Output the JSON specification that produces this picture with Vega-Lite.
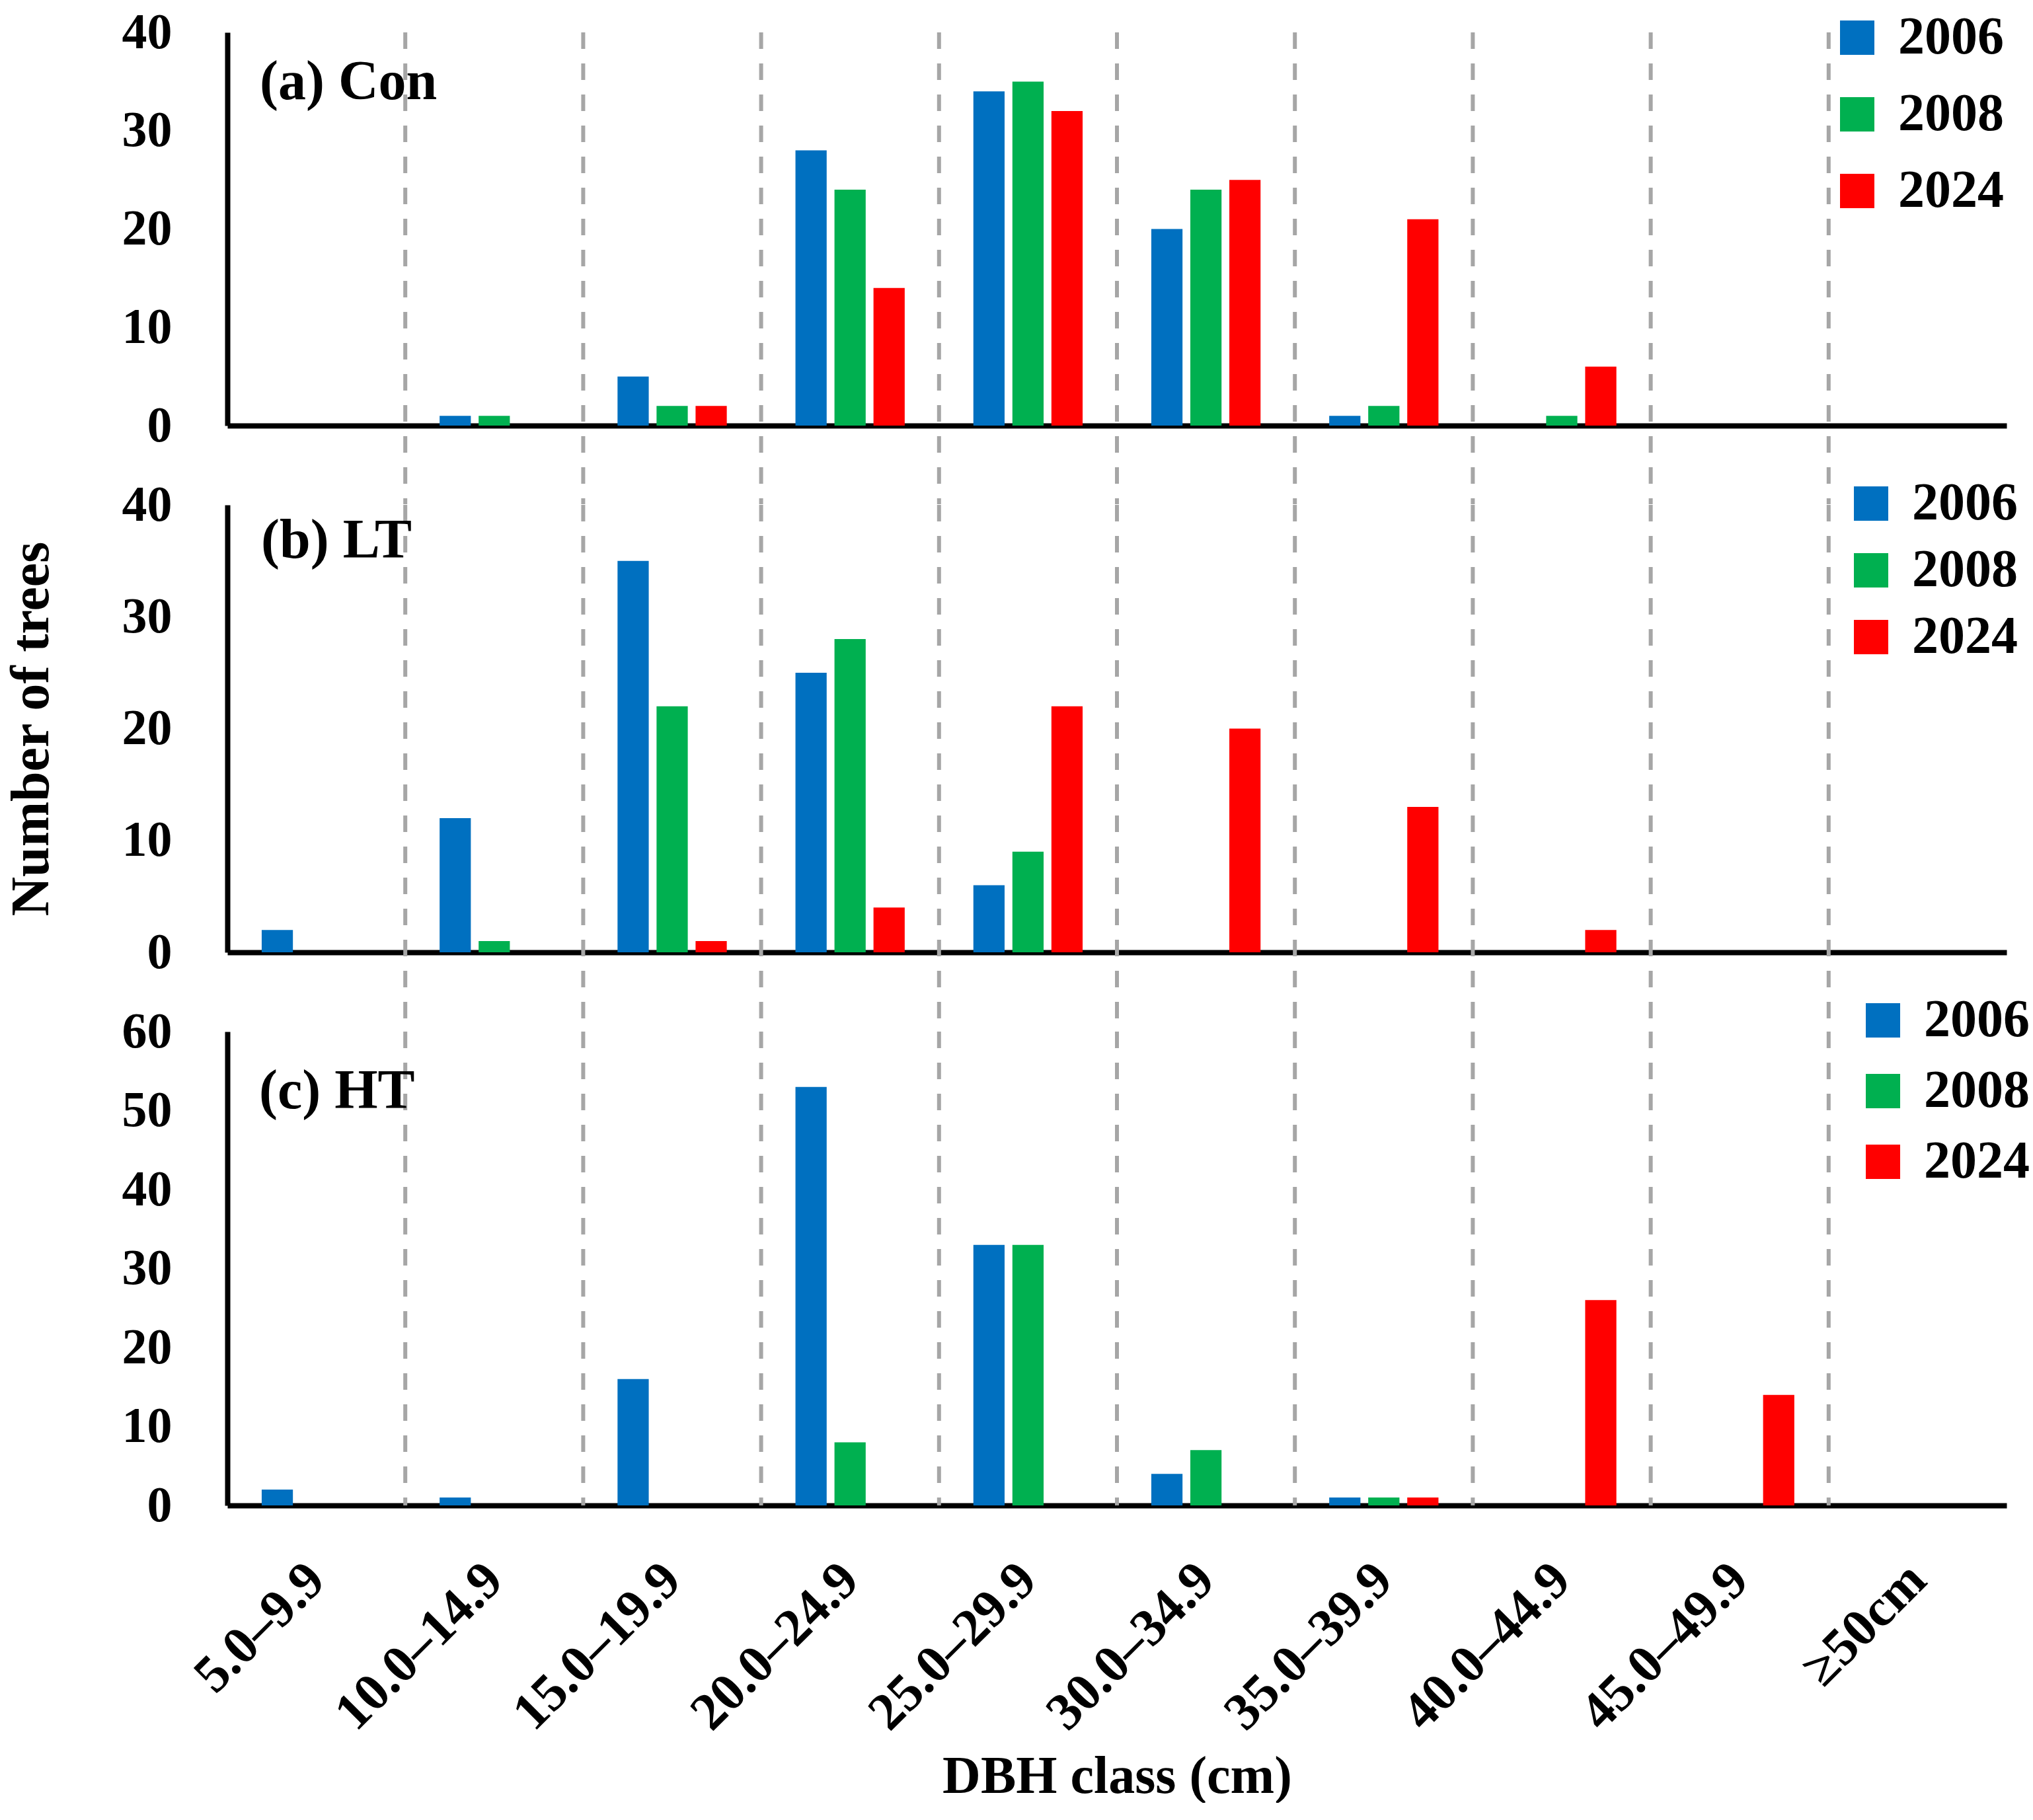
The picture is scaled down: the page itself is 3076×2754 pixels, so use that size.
{
  "$schema": "https://vega.github.io/schema/vega-lite/v6.json",
  "background": "white",
  "padding": {"left": 6, "top": 11, "right": 0, "bottom": 0},
  "config": {
    "font": "Liberation Serif",
    "view": {"stroke": null},
    "axis": {
      "labelFont": "Liberation Serif", "labelFontWeight": "bold", "labelFontSize": 76, "labelColor": "black", "labelLimit": 0,
      "titleFont": "Liberation Serif", "titleFontWeight": "bold", "titleFontSize": 82, "titleColor": "black", "titleLimit": 0,
      "domainColor": "black", "domainWidth": 8, "ticks": false, "tickSize": 0, "grid": false
    },
    "legend": {
      "labelFont": "Liberation Serif", "labelFontWeight": "bold", "labelFontSize": 80, "labelColor": "black", "labelLimit": 0,
      "symbolType": "square", "symbolSize": 2704, "symbolStrokeWidth": 0, "symbolOpacity": 1,
      "labelOffset": 22, "padding": 0, "title": null
    }
  },
  "datasets": {
    "bars": [
      {"panel": "a", "cls": "10.0–14.9", "year": "2006", "n": 1},
      {"panel": "a", "cls": "10.0–14.9", "year": "2008", "n": 1},
      {"panel": "a", "cls": "15.0–19.9", "year": "2006", "n": 5},
      {"panel": "a", "cls": "15.0–19.9", "year": "2008", "n": 2},
      {"panel": "a", "cls": "15.0–19.9", "year": "2024", "n": 2},
      {"panel": "a", "cls": "20.0–24.9", "year": "2006", "n": 28},
      {"panel": "a", "cls": "20.0–24.9", "year": "2008", "n": 24},
      {"panel": "a", "cls": "20.0–24.9", "year": "2024", "n": 14},
      {"panel": "a", "cls": "25.0–29.9", "year": "2006", "n": 34},
      {"panel": "a", "cls": "25.0–29.9", "year": "2008", "n": 35},
      {"panel": "a", "cls": "25.0–29.9", "year": "2024", "n": 32},
      {"panel": "a", "cls": "30.0–34.9", "year": "2006", "n": 20},
      {"panel": "a", "cls": "30.0–34.9", "year": "2008", "n": 24},
      {"panel": "a", "cls": "30.0–34.9", "year": "2024", "n": 25},
      {"panel": "a", "cls": "35.0–39.9", "year": "2006", "n": 1},
      {"panel": "a", "cls": "35.0–39.9", "year": "2008", "n": 2},
      {"panel": "a", "cls": "35.0–39.9", "year": "2024", "n": 21},
      {"panel": "a", "cls": "40.0–44.9", "year": "2008", "n": 1},
      {"panel": "a", "cls": "40.0–44.9", "year": "2024", "n": 6},
      {"panel": "b", "cls": "5.0–9.9", "year": "2006", "n": 2},
      {"panel": "b", "cls": "10.0–14.9", "year": "2006", "n": 12},
      {"panel": "b", "cls": "10.0–14.9", "year": "2008", "n": 1},
      {"panel": "b", "cls": "15.0–19.9", "year": "2006", "n": 35},
      {"panel": "b", "cls": "15.0–19.9", "year": "2008", "n": 22},
      {"panel": "b", "cls": "15.0–19.9", "year": "2024", "n": 1},
      {"panel": "b", "cls": "20.0–24.9", "year": "2006", "n": 25},
      {"panel": "b", "cls": "20.0–24.9", "year": "2008", "n": 28},
      {"panel": "b", "cls": "20.0–24.9", "year": "2024", "n": 4},
      {"panel": "b", "cls": "25.0–29.9", "year": "2006", "n": 6},
      {"panel": "b", "cls": "25.0–29.9", "year": "2008", "n": 9},
      {"panel": "b", "cls": "25.0–29.9", "year": "2024", "n": 22},
      {"panel": "b", "cls": "30.0–34.9", "year": "2024", "n": 20},
      {"panel": "b", "cls": "35.0–39.9", "year": "2024", "n": 13},
      {"panel": "b", "cls": "40.0–44.9", "year": "2024", "n": 2},
      {"panel": "c", "cls": "5.0–9.9", "year": "2006", "n": 2},
      {"panel": "c", "cls": "10.0–14.9", "year": "2006", "n": 1},
      {"panel": "c", "cls": "15.0–19.9", "year": "2006", "n": 16},
      {"panel": "c", "cls": "20.0–24.9", "year": "2006", "n": 53},
      {"panel": "c", "cls": "20.0–24.9", "year": "2008", "n": 8},
      {"panel": "c", "cls": "25.0–29.9", "year": "2006", "n": 33},
      {"panel": "c", "cls": "25.0–29.9", "year": "2008", "n": 33},
      {"panel": "c", "cls": "30.0–34.9", "year": "2006", "n": 4},
      {"panel": "c", "cls": "30.0–34.9", "year": "2008", "n": 7},
      {"panel": "c", "cls": "35.0–39.9", "year": "2006", "n": 1},
      {"panel": "c", "cls": "35.0–39.9", "year": "2008", "n": 1},
      {"panel": "c", "cls": "35.0–39.9", "year": "2024", "n": 1},
      {"panel": "c", "cls": "40.0–44.9", "year": "2024", "n": 26},
      {"panel": "c", "cls": "45.0–49.9", "year": "2024", "n": 14}
    ],
    "bounds": [
      {"cls": "10.0–14.9"}, {"cls": "15.0–19.9"}, {"cls": "20.0–24.9"}, {"cls": "25.0–29.9"},
      {"cls": "30.0–34.9"}, {"cls": "35.0–39.9"}, {"cls": "40.0–44.9"}, {"cls": "45.0–49.9"}, {"cls": "≥50cm"}
    ]
  },
  "bounds": "flush",
  "spacing": 120,
  "resolve": {"legend": {"color": "independent"}, "scale": {"color": "independent"}},
  "vconcat": [
    {
      "width": 2692, "height": 595,
      "layer": [
        {
          "data": {"name": "bounds"},
          "mark": {"type": "rule", "color": "#A6A6A6", "strokeWidth": 6, "strokeDash": [25, 22]},
          "encoding": {
            "x": {"field": "cls", "type": "nominal", "bandPosition": 0,
                  "scale": {"domain": ["5.0–9.9","10.0–14.9","15.0–19.9","20.0–24.9","25.0–29.9","30.0–34.9","35.0–39.9","40.0–44.9","45.0–49.9","≥50cm"], "paddingInner": 0, "paddingOuter": 0},
                  "axis": {"labels": false, "title": null}},
            "y": {"datum": 40, "scale": {"domain": [0, 40], "nice": false}, "axis": {"values": [0,10,20,30,40], "labelPadding": 84, "title": null}},
            "y2": {"datum": -8}
          }
        },
        {
          "data": {"name": "bars"},
          "transform": [{"filter": "datum.panel === 'a'"}],
          "mark": {"type": "bar"},
          "encoding": {
            "x": {"field": "cls", "type": "nominal",
                  "scale": {"domain": ["5.0–9.9","10.0–14.9","15.0–19.9","20.0–24.9","25.0–29.9","30.0–34.9","35.0–39.9","40.0–44.9","45.0–49.9","≥50cm"], "paddingInner": 0, "paddingOuter": 0},
                  "axis": {"labels": false, "title": null}},
            "xOffset": {"field": "year", "type": "nominal", "scale": {"domain": ["2006","2008","2024"], "paddingInner": 0.2, "paddingOuter": 0.88}},
            "y": {"field": "n", "type": "quantitative", "scale": {"domain": [0, 40], "nice": false}, "axis": {"values": [0,10,20,30,40], "labelPadding": 84, "title": null}},
            "color": {"field": "year", "type": "nominal",
                      "scale": {"domain": ["2006","2008","2024"], "range": ["#0070C0","#00B050","#FF0000"]},
                      "legend": {"orient": "none", "legendX": 2426, "legendY": -32, "rowPadding": 36}}
          }
        },
        {
          "data": {"values": [{}]},
          "mark": {"type": "text", "align": "left", "baseline": "alphabetic", "fontSize": 84, "fontWeight": "bold", "font": "Liberation Serif", "color": "black", "dx": 49},
          "encoding": {
            "x": {"datum": "5.0–9.9", "bandPosition": 0},
            "y": {"datum": 33.2},
            "text": {"value": "(a) Con"}
          }
        }
      ]
    },
    {
      "width": 2692, "height": 677,
      "layer": [
        {
          "data": {"name": "bounds"},
          "mark": {"type": "rule", "color": "#A6A6A6", "strokeWidth": 6, "strokeDash": [25, 22]},
          "encoding": {
            "x": {"field": "cls", "type": "nominal", "bandPosition": 0,
                  "scale": {"domain": ["5.0–9.9","10.0–14.9","15.0–19.9","20.0–24.9","25.0–29.9","30.0–34.9","35.0–39.9","40.0–44.9","45.0–49.9","≥50cm"], "paddingInner": 0, "paddingOuter": 0},
                  "axis": {"labels": false, "title": null}},
            "y": {"datum": 40, "scale": {"domain": [0, 40], "nice": false}, "axis": {"values": [0,10,20,30,40], "labelPadding": 84, "title": "Number of trees", "titlePadding": 95}},
            "y2": {"datum": -7.1}
          }
        },
        {
          "data": {"name": "bars"},
          "transform": [{"filter": "datum.panel === 'b'"}],
          "mark": {"type": "bar"},
          "encoding": {
            "x": {"field": "cls", "type": "nominal",
                  "scale": {"domain": ["5.0–9.9","10.0–14.9","15.0–19.9","20.0–24.9","25.0–29.9","30.0–34.9","35.0–39.9","40.0–44.9","45.0–49.9","≥50cm"], "paddingInner": 0, "paddingOuter": 0},
                  "axis": {"labels": false, "title": null}},
            "xOffset": {"field": "year", "type": "nominal", "scale": {"domain": ["2006","2008","2024"], "paddingInner": 0.2, "paddingOuter": 0.88}},
            "y": {"field": "n", "type": "quantitative", "scale": {"domain": [0, 40], "nice": false}, "axis": {"values": [0,10,20,30,40], "labelPadding": 84, "title": "Number of trees", "titlePadding": 95}},
            "color": {"field": "year", "type": "nominal",
                      "scale": {"domain": ["2006","2008","2024"], "range": ["#0070C0","#00B050","#FF0000"]},
                      "legend": {"orient": "none", "legendX": 2447, "legendY": -42, "rowPadding": 21}}
          }
        },
        {
          "data": {"values": [{}]},
          "mark": {"type": "text", "align": "left", "baseline": "alphabetic", "fontSize": 84, "fontWeight": "bold", "font": "Liberation Serif", "color": "black", "dx": 51},
          "encoding": {
            "x": {"datum": "5.0–9.9", "bandPosition": 0},
            "y": {"datum": 35.3},
            "text": {"value": "(b) LT"}
          }
        }
      ]
    },
    {
      "width": 2692, "height": 717,
      "layer": [
        {
          "data": {"name": "bounds"},
          "mark": {"type": "rule", "color": "#A6A6A6", "strokeWidth": 6, "strokeDash": [25, 22]},
          "encoding": {
            "x": {"field": "cls", "type": "nominal", "bandPosition": 0,
                  "scale": {"domain": ["5.0–9.9","10.0–14.9","15.0–19.9","20.0–24.9","25.0–29.9","30.0–34.9","35.0–39.9","40.0–44.9","45.0–49.9","≥50cm"], "paddingInner": 0, "paddingOuter": 0},
                  "axis": {"labelAngle": -45, "labelAlign": "right", "labelBaseline": "middle", "labelPadding": 100, "labelFontSize": 80, "title": "DBH class (cm)", "titleFontSize": 80, "titleY": 434, "titleBaseline": "alphabetic"}},
            "y": {"datum": 60, "scale": {"domain": [0, 60], "nice": false}, "axis": {"values": [0,10,20,30,40,50,60], "labelPadding": 84, "title": null}},
            "y2": {"datum": 0}
          }
        },
        {
          "data": {"name": "bars"},
          "transform": [{"filter": "datum.panel === 'c'"}],
          "mark": {"type": "bar"},
          "encoding": {
            "x": {"field": "cls", "type": "nominal",
                  "scale": {"domain": ["5.0–9.9","10.0–14.9","15.0–19.9","20.0–24.9","25.0–29.9","30.0–34.9","35.0–39.9","40.0–44.9","45.0–49.9","≥50cm"], "paddingInner": 0, "paddingOuter": 0},
                  "axis": {"labelAngle": -45, "labelAlign": "right", "labelBaseline": "middle", "labelPadding": 100, "labelFontSize": 80, "title": "DBH class (cm)", "titleFontSize": 80, "titleY": 434, "titleBaseline": "alphabetic"}},
            "xOffset": {"field": "year", "type": "nominal", "scale": {"domain": ["2006","2008","2024"], "paddingInner": 0.2, "paddingOuter": 0.88}},
            "y": {"field": "n", "type": "quantitative", "scale": {"domain": [0, 60], "nice": false}, "axis": {"values": [0,10,20,30,40,50,60], "labelPadding": 84, "title": null}},
            "color": {"field": "year", "type": "nominal",
                      "scale": {"domain": ["2006","2008","2024"], "range": ["#0070C0","#00B050","#FF0000"]},
                      "legend": {"orient": "none", "legendX": 2465, "legendY": -57, "rowPadding": 27}}
          }
        },
        {
          "data": {"values": [{}]},
          "mark": {"type": "text", "align": "left", "baseline": "alphabetic", "fontSize": 84, "fontWeight": "bold", "font": "Liberation Serif", "color": "black", "dx": 48},
          "encoding": {
            "x": {"datum": "5.0–9.9", "bandPosition": 0},
            "y": {"datum": 50.3},
            "text": {"value": "(c) HT"}
          }
        }
      ]
    }
  ]
}
